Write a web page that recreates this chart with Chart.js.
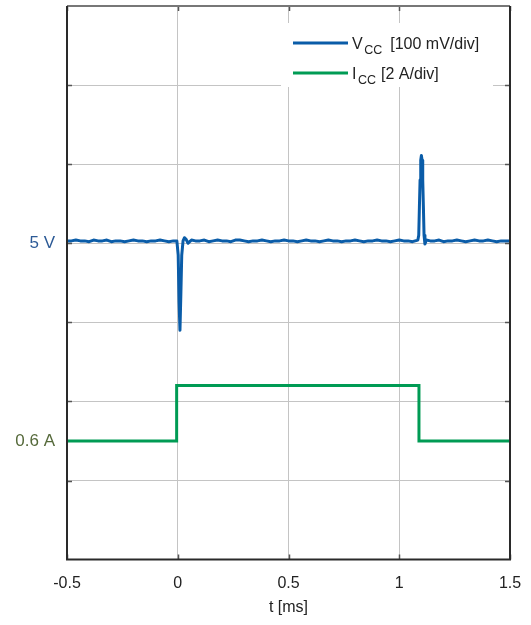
<!DOCTYPE html>
<html>
<head>
<meta charset="utf-8">
<script src="https://cdn.jsdelivr.net/npm/chart.js@4"></script>
<style>
  body { margin: 0; background: #fff; }
  #wrap { width: 531px; height: 625px; }
</style>
</head>
<body>
<div id="wrap"><canvas id="scope"></canvas></div>
<script>
// Data (time in ms, voltage in V, current in A)

const vccTime = [
  -0.50, -0.48, -0.46, -0.44, -0.42, -0.40, -0.38, -0.36, -0.34, -0.32,
  -0.30, -0.28, -0.26, -0.24, -0.22, -0.20, -0.18, -0.16, -0.14, -0.12,
  -0.10, -0.08, -0.06, -0.04, -0.02, -0.004, 0.002, 0.006, 0.010, 0.014,
  0.018, 0.024, 0.030, 0.038, 0.046, 0.054, 0.062, 0.08, 0.10, 0.12,
  0.14, 0.16, 0.18, 0.20, 0.22, 0.24, 0.26, 0.28, 0.30, 0.32,
  0.34, 0.36, 0.38, 0.40, 0.42, 0.44, 0.46, 0.48, 0.50, 0.52,
  0.54, 0.56, 0.58, 0.60, 0.62, 0.64, 0.66, 0.68, 0.70, 0.72,
  0.74, 0.76, 0.78, 0.80, 0.82, 0.84, 0.86, 0.88, 0.90, 0.92,
  0.94, 0.96, 0.98, 1.00, 1.02, 1.04, 1.06, 1.084, 1.088, 1.091,
  1.094, 1.097, 1.100, 1.103, 1.106, 1.109, 1.112, 1.116, 1.122, 1.14,
  1.16, 1.18, 1.20, 1.22, 1.24, 1.26, 1.28, 1.30, 1.32, 1.34,
  1.36, 1.38, 1.40, 1.42, 1.44, 1.46, 1.48, 1.50
];
const vccVolts = [
  5.003, 5.003, 5.004, 5.003, 5.003, 5.002, 5.004, 5.003, 5.003, 5.004,
  5.002, 5.003, 5.003, 5.002, 5.003, 5.004, 5.003, 5.003, 5.002, 5.003,
  5.003, 5.004, 5.003, 5.002, 5.003, 5.003, 4.985, 4.925, 4.890, 4.935,
  4.985, 5.003, 5.007, 5.005, 5.000, 5.002, 5.004, 5.003, 5.003, 5.004,
  5.002, 5.003, 5.004, 5.003, 5.003, 5.002, 5.004, 5.004, 5.003, 5.002,
  5.003, 5.003, 5.004, 5.003, 5.002, 5.003, 5.003, 5.004, 5.003, 5.003,
  5.002, 5.003, 5.004, 5.003, 5.003, 5.002, 5.003, 5.004, 5.003, 5.003,
  5.002, 5.003, 5.003, 5.004, 5.003, 5.002, 5.003, 5.003, 5.004, 5.003,
  5.003, 5.002, 5.003, 5.004, 5.003, 5.003, 5.002, 5.004, 5.010, 5.046,
  5.080, 5.105, 5.111, 5.105, 5.080, 5.046, 5.010, 4.999, 5.004, 5.003,
  5.003, 5.004, 5.002, 5.003, 5.003, 5.004, 5.003, 5.002, 5.003, 5.004,
  5.003, 5.003, 5.004, 5.003, 5.002, 5.003, 5.003, 5.003
];

const iccTime = [-0.5, -0.005, -0.005, 1.089, 1.089, 1.5];
const iccAmps = [0.6, 0.6, 2.0, 2.0, 0.6, 0.6];

const xTicks = [-0.5, 0, 0.5, 1, 1.5];

// scope screen: 7 divisions, 5 V sits on division 4, 0 A on division 1.2
const vCentre = 5, vDiv = 0.1, vCentreDiv = 4;
const iDiv = 2, iZeroDiv = 1.2;
const toDivV = v => vCentreDiv + (v - vCentre) / vDiv;
const toDivI = a => iZeroDiv + a / iDiv;

const yLabelText = ['5 V', '0.6 A'];
const yLabelDivs = [toDivV(5), toDivI(0.6)];
const yLabelColors = ['#2c5a96', '#55693a'];

const legendMain = ['V', 'I'];
const legendSub = ['CC', 'CC'];
const legendRest = ['[100 mV/div]', '[2 A/div]'];

const blue = '#0a5ca8';
const green = '#009b54';
const font = '"Liberation Sans", Arial, sans-serif';

const yLabelIndex = v => yLabelDivs.findIndex(d => Math.abs(d - v) < 1e-6);
const tickIndex = c => (c && c.tick) ? yLabelIndex(c.tick.value) : -1;

// Frame + inner tick marks
const framePlugin = {
  id: 'frame',
  afterDatasetsDraw(chart) {
    const {ctx, chartArea: a, scales} = chart;
    ctx.save();
    ctx.strokeStyle = '#555';
    ctx.lineWidth = 1.5;
    for (let d = 1; d < 7; d++) {
      const y = Math.round(scales.y.getPixelForValue(d)) + 0.5;
      ctx.beginPath();
      ctx.moveTo(a.left, y); ctx.lineTo(a.left + 5, y);
      ctx.moveTo(a.right, y); ctx.lineTo(a.right - 5, y);
      ctx.stroke();
    }
    xTicks.forEach(t => {
      const x = Math.round(scales.x.getPixelForValue(t)) + 0.5;
      ctx.beginPath();
      ctx.moveTo(x, a.bottom); ctx.lineTo(x, a.bottom - 5);
      ctx.moveTo(x, a.top); ctx.lineTo(x, a.top + 5);
      ctx.stroke();
    });
    ctx.lineWidth = 2;
    ctx.strokeStyle = '#777';
    ctx.beginPath();
    ctx.moveTo(a.left, a.top); ctx.lineTo(a.right, a.top);
    ctx.stroke();
    ctx.strokeStyle = '#2a2a2a';
    ctx.beginPath();
    ctx.moveTo(a.left, a.top); ctx.lineTo(a.left, a.bottom);
    ctx.lineTo(a.right, a.bottom); ctx.lineTo(a.right, a.top);
    ctx.stroke();
    ctx.restore();
  }
};

// Legend with subscripts
const subGap = [8, 5];
const legendPlugin = {
  id: 'subLegend',
  afterDraw(chart) {
    const {ctx, chartArea: a} = chart;
    const boxL = a.right - 229, boxT = a.top + 17;
    ctx.save();
    ctx.fillStyle = '#fff';
    ctx.fillRect(boxL, boxT, 212, 64);
    chart.data.datasets.forEach((ds, i) => {
      const y = boxT + 20 + i * 30;
      const x0 = boxL + 12;
      ctx.strokeStyle = ds.borderColor;
      ctx.lineWidth = 3;
      ctx.beginPath();
      ctx.moveTo(x0, y); ctx.lineTo(x0 + 55, y);
      ctx.stroke();
      ctx.fillStyle = '#222';
      ctx.textBaseline = 'alphabetic';
      let x = x0 + 59;
      ctx.font = '16px ' + font;
      ctx.fillText(legendMain[i], x, y + 5.5);
      x += ctx.measureText(legendMain[i]).width + 1.5;
      ctx.font = '12.5px ' + font;
      ctx.fillText(legendSub[i], x, y + 10.5);
      x += ctx.measureText(legendSub[i]).width + subGap[i];
      ctx.font = '16px ' + font;
      ctx.fillText(legendRest[i], x, y + 5.5);
    });
    ctx.restore();
  }
};

new Chart(document.getElementById('scope'), {
  type: 'scatter',
  data: {
    datasets: [{
      label: 'VCC',
      data: vccTime.map((t, i) => ({x: t, y: toDivV(vccVolts[i])})),
      showLine: true,
      borderColor: blue,
      borderWidth: 3,
      borderJoinStyle: 'round',
      pointRadius: 0,
      tension: 0
    }, {
      label: 'ICC',
      data: iccTime.map((t, i) => ({x: t, y: toDivI(iccAmps[i])})),
      showLine: true,
      borderColor: green,
      borderWidth: 3,
      pointRadius: 0,
      tension: 0
    }]
  },
  options: {
    responsive: true,
    maintainAspectRatio: false,
    animation: false,
    layout: { padding: { top: 6, right: 21, bottom: 0, left: 0 } },
    plugins: {
      legend: { display: false },
      tooltip: { enabled: false }
    },
    scales: {
      x: {
        type: 'linear',
        min: -0.5,
        max: 1.5,
        afterBuildTicks: s => { s.ticks = xTicks.map(v => ({value: v})); },
        ticks: {
          color: '#222',
          padding: 0,
          font: { family: font, size: 16 },
          callback: v => String(v)
        },
        grid: {
          color: '#c4c4c4', lineWidth: 1,
          drawTicks: true, tickLength: 14, tickColor: 'rgba(0,0,0,0)'
        },
        border: { display: false },
        title: {
          display: true,
          text: 't [ms]',
          color: '#222',
          font: { family: font, size: 16 },
          padding: { top: 5, bottom: 8 }
        }
      },
      y: {
        min: 0,
        max: 7,
        afterFit: s => { s.width = 67; },
        afterBuildTicks: s => {
          s.ticks = [0, 1, 2, 3, 4, 5, 6, 7].concat(yLabelDivs.filter(d => !Number.isInteger(d)))
            .sort((p, q) => p - q).map(v => ({value: v}));
        },
        ticks: {
          padding: 0,
          font: c => tickIndex(c) >= 0
            ? { family: font, size: 17 }
            : { family: font, size: 17, lineHeight: 0 },
          color: c => {
            const k = tickIndex(c);
            return k >= 0 ? yLabelColors[k] : '#222';
          },
          callback: v => {
            const k = yLabelIndex(v);
            return k >= 0 ? yLabelText[k] : '';
          }
        },
        grid: {
          color: c => (c.tick && !Number.isInteger(c.tick.value)) ? 'rgba(0,0,0,0)' : '#c4c4c4',
          lineWidth: 1,
          drawTicks: true, tickLength: 12, tickColor: 'rgba(0,0,0,0)'
        },
        border: { display: false }
      }
    }
  },
  plugins: [framePlugin, legendPlugin]
});
</script>
</body>
</html>
